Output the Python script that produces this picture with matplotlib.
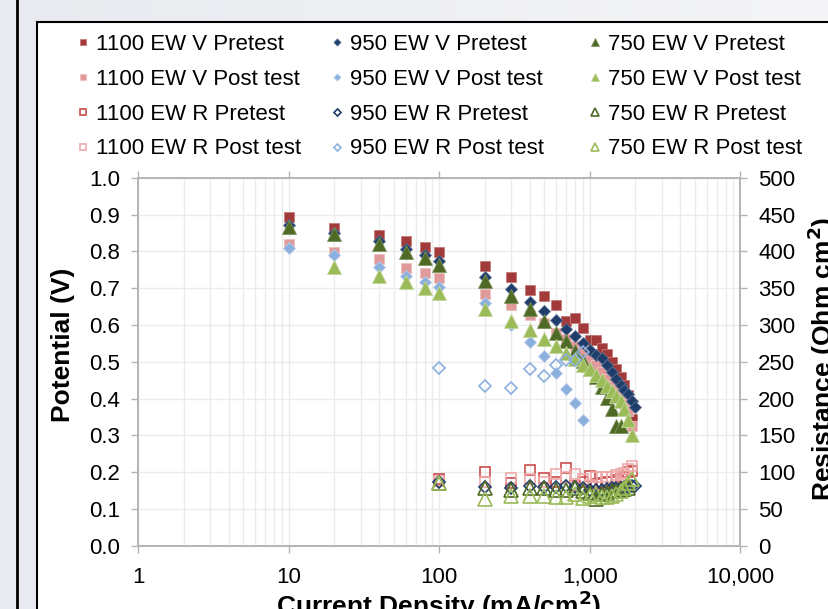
import numpy as np
import matplotlib
matplotlib.use("Agg")
import matplotlib.pyplot as plt
from matplotlib.patches import Rectangle
from matplotlib.ticker import FixedLocator, FuncFormatter, NullFormatter

plt.rcParams['font.family'] = ['Liberation Sans', 'DejaVu Sans']

# current density (mA/cm2) and potential (V) for the polarisation curves
cd_1100_pre = [10, 20, 40, 60, 80, 100, 200, 300, 400, 500, 600, 700, 800, 900, 1000,
               1100, 1200, 1300, 1400, 1500, 1600, 1700, 1800, 1900]
v_1100_pre = [0.894, 0.863, 0.843, 0.828, 0.811, 0.799, 0.759, 0.730, 0.695, 0.678, 0.655,
              0.611, 0.618, 0.592, 0.558, 0.558, 0.536, 0.520, 0.498, 0.479, 0.458, 0.436,
              0.410, 0.345]

cd_1100_post = [10, 20, 40, 60, 80, 100, 200, 300, 400, 500, 600, 700, 800, 900, 1000,
                1100, 1200, 1300, 1400, 1500, 1600, 1700, 1800, 1900]
v_1100_post = [0.821, 0.798, 0.778, 0.754, 0.740, 0.728, 0.685, 0.653, 0.627, 0.604, 0.579,
               0.562, 0.542, 0.528, 0.510, 0.490, 0.471, 0.453, 0.433, 0.420, 0.402, 0.385,
               0.365, 0.326]

cd_950_pre = [10, 20, 40, 60, 80, 100, 200, 300, 400, 500, 600, 700, 800, 900, 1000,
              1100, 1200, 1300, 1400, 1500, 1600, 1700, 1800, 1900, 2000]
v_950_pre = [0.872, 0.851, 0.827, 0.806, 0.789, 0.774, 0.730, 0.697, 0.662, 0.637, 0.613,
             0.590, 0.571, 0.551, 0.532, 0.517, 0.509, 0.490, 0.471, 0.453, 0.438, 0.424,
             0.411, 0.392, 0.377]

cd_950_post = [10, 20, 40, 60, 80, 100, 200, 300, 400, 500, 600, 700, 800, 900]
v_950_post = [0.808, 0.789, 0.757, 0.734, 0.716, 0.702, 0.660, 0.600, 0.553, 0.515, 0.470,
              0.426, 0.388, 0.342]

cd_750_pre = [10, 20, 40, 60, 80, 100, 200, 300, 400, 500, 600, 700, 800, 900, 1000,
              1100, 1200, 1300, 1400, 1500, 1600]
v_750_pre = [0.865, 0.848, 0.820, 0.798, 0.783, 0.764, 0.719, 0.678, 0.642, 0.610, 0.577,
             0.555, 0.530, 0.503, 0.480, 0.458, 0.432, 0.402, 0.372, 0.326, 0.326]

cd_750_post = [20, 40, 60, 80, 100, 200, 300, 400, 500, 600, 700, 800, 900, 1000,
               1100, 1200, 1300, 1400, 1500, 1600, 1700, 1800, 1900]
v_750_post = [0.757, 0.732, 0.717, 0.699, 0.686, 0.644, 0.610, 0.586, 0.561, 0.542, 0.525,
              0.508, 0.492, 0.481, 0.465, 0.450, 0.435, 0.421, 0.408, 0.392, 0.372, 0.342,
              0.302]

# resistance (Ohm cm2)
cd_r = [100, 200, 300, 400, 500, 600, 700, 800, 900, 1000,
        1100, 1200, 1300, 1400, 1500, 1600, 1700, 1800, 1900]
r_1100_pre = [90, 100, 85, 103, 92, 86, 105, 81, 87, 95, 84, 85, 86, 87, 89, 91, 93, 100, 102]
r_1100_post = [88, 87, 92, 90, 87, 98, 93, 97, 90, 83, 93, 93, 93, 94, 96, 97, 99, 104, 108]

cd_r_950_pre = [100, 200, 300, 400, 500, 600, 700, 800, 900, 1000,
                1100, 1200, 1300, 1400, 1500, 1600, 1700, 1800, 1900, 2000]
r_950_pre = [86, 80, 78, 81, 80, 80, 81, 80, 78, 76, 76, 76, 77, 78, 78, 79, 80, 80, 81, 81]

cd_r_950_post = [100, 200, 300, 400, 500, 600, 700, 800, 900]
r_950_post = [241, 217, 214, 240, 231, 246, 252, 252, 263]

cd_r_750_pre = [100, 200, 300, 400, 500, 600, 700, 800, 900, 1000,
                1100, 1200, 1300, 1400, 1500, 1600, 1700, 1800]
r_750_pre = [85, 78, 76, 78, 78, 76, 76, 78, 75, 72, 63, 70, 72, 74, 75, 76, 77, 78]

r_750_post = [85, 63, 68, 68, 67, 66, 66, 70, 65, 68, 70, 66, 66, 68, 70, 74, 78, 85, 90]

W, H = 829, 609
fig = plt.figure(figsize=(W / 100, H / 100), dpi=100)

# slide-like background with white chart box
bg = fig.add_axes([0, 0, 1, 1], zorder=-10)
grad = np.linspace(0, 1, 256)[None, :]
bg.imshow(grad, cmap=matplotlib.colors.LinearSegmentedColormap.from_list(
    'g', ['#e8eaef', '#f5f5f7']), aspect='auto', extent=[0, W, 0, H])
bg.set_xlim(0, W)
bg.set_ylim(H, 0)
bg.add_patch(Rectangle((37, 22), 900, 700, facecolor='white', edgecolor='black', lw=1.5))
bg.plot([17, 17], [0, H], color='black', lw=2)
bg.axis('off')

ax = fig.add_axes([138.3 / W, 1 - 545.7 / H, 602 / W, 368 / H])
ax2 = ax.twinx()

gray = '#b4b4b4'
grid_c = '#ebebeb'

ax.set_xscale('log')
ax.set_xlim(1, 10000)
ax.set_ylim(0, 1.0)
ax2.set_ylim(0, 500)

ax.set_yticks(np.arange(0, 1.01, 0.1))
ax2.set_yticks(np.arange(0, 501, 50))
ax.yaxis.set_major_formatter(FuncFormatter(lambda v, p: f'{v:.1f}'))
ax.xaxis.set_major_locator(FixedLocator([1, 10, 100, 1000, 10000]))
ax.xaxis.set_major_formatter(FuncFormatter(lambda v, p: f'{v:,.0f}'))
ax.xaxis.set_minor_formatter(NullFormatter())

ax.grid(True, which='major', color=grid_c, lw=1)
ax.grid(True, which='minor', axis='x', color=grid_c, lw=1)
ax.set_axisbelow(True)

for a in (ax, ax2):
    for s in a.spines.values():
        s.set_color(gray)
        s.set_linewidth(1.2)
ax.tick_params(axis='both', which='major', direction='out', length=5, width=1,
               color=gray, labelsize=16, pad=8)
ax.tick_params(axis='x', which='major', top=True, pad=10)
ax.tick_params(axis='x', which='minor', length=0)
ax2.tick_params(axis='y', direction='out', length=5, width=1, color=gray,
                labelsize=16, pad=8)

ms_sq, ms_d, ms_t = 7, 6, 10

# voltage series on primary axis
ax.plot(cd_1100_pre, v_1100_pre, 's', color='#a33a3a', ms=ms_sq, mec='#c27a7a', mew=0.6, label='1100 EW V Pretest')
ax.plot(cd_1100_post, v_1100_post, 's', color='#e09a9a', ms=ms_sq, mec='#eec0c0', mew=0.6, label='1100 EW V Post test')
ax.plot(cd_950_pre, v_950_pre, 'D', color='#1f3d6b', ms=ms_d, mec='#5a7090', mew=0.6, label='950 EW V Pretest')
ax.plot(cd_950_post, v_950_post, 'D', color='#8cb0de', ms=ms_d, mec='#b8cde8', mew=0.6, label='950 EW V Post test')
ax.plot(cd_750_pre, v_750_pre, '^', color='#4e6a24', ms=ms_t, mec='#7f935f', mew=0.6, label='750 EW V Pretest')
ax.plot(cd_750_post, v_750_post, '^', color='#9bbb59', ms=ms_t, mec='#c2d69b', mew=0.6, label='750 EW V Post test')

# resistance series on secondary axis
ax2.plot(cd_r, r_1100_pre, 's', mfc='none', mec='#cc4c4c', ms=ms_sq, mew=1.2, label='1100 EW R Pretest')
ax2.plot(cd_r, r_1100_post, 's', mfc='none', mec='#eeaaaa', ms=ms_sq, mew=1.2, label='1100 EW R Post test')
ax2.plot(cd_r_950_pre, r_950_pre, 'D', mfc='none', mec='#1f3d6b', ms=ms_d, mew=1.2, label='950 EW R Pretest')
ax2.plot(cd_r_950_post, r_950_post, 'D', mfc='none', mec='#8cb0de', ms=ms_d, mew=1.2, label='950 EW R Post test')
ax2.plot(cd_r_750_pre, r_750_pre, '^', mfc='none', mec='#4e6a24', ms=ms_t, mew=1.2, label='750 EW R Pretest')
ax2.plot(cd_r, r_750_post, '^', mfc='none', mec='#9bbb59', ms=ms_t, mew=1.2, label='750 EW R Post test')

# legend: three equal columns like the original
h1, l1 = ax.get_legend_handles_labels()
h2, l2 = ax2.get_legend_handles_labels()
handles = dict(zip(l1 + l2, h1 + h2))
columns = [
    ['1100 EW V Pretest', '1100 EW V Post test', '1100 EW R Pretest', '1100 EW R Post test'],
    ['950 EW V Pretest', '950 EW V Post test', '950 EW R Pretest', '950 EW R Post test'],
    ['750 EW V Pretest', '750 EW V Post test', '750 EW R Pretest', '750 EW R Post test'],
]
col_x = [76, 330, 588]
for cx, labels in zip(col_x, columns):
    fig.legend([handles[l] for l in labels], labels, loc='upper left',
               bbox_to_anchor=(cx / W, 1 - 34 / H), frameon=False, fontsize=16,
               handlelength=0.6, handletextpad=0.3, borderpad=0, borderaxespad=0,
               labelspacing=0.62, markerscale=0.6)

fig.text(63 / W, 1 - 345 / H, 'Potential (V)', rotation=90, ha='center', va='center',
         fontsize=19, fontweight='bold')
fig.text(439 / W, 1 - 589 / H, 'Current Density (mA/cm$^\\mathbf{2}$)', ha='center', va='top',
         fontsize=19, fontweight='bold')
fig.text(822 / W, 1 - 359 / H, 'Resistance (Ohm cm$^\\mathbf{2}$)', rotation=90, ha='center',
         va='center', fontsize=19, fontweight='bold')

fig.savefig('out.png', dpi=100)
